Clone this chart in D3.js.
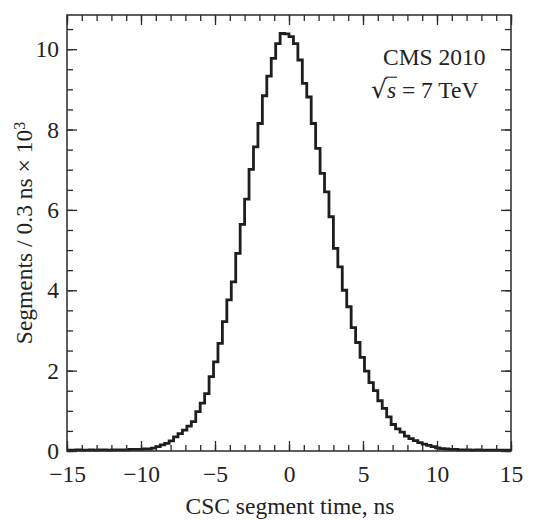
<!DOCTYPE html>
<html>
<head>
<meta charset="utf-8">
<script src="https://cdn.jsdelivr.net/npm/d3@7"></script>
<style>
  html, body { margin: 0; padding: 0; background: #fff; }
  svg text { font-family: "Liberation Serif", "Times New Roman", serif; fill: #222; }
</style>
</head>
<body>
<svg id="chart" width="533" height="520"></svg>
<script>
// Histogram: CSC segment time, bins of 0.3 ns from -15 to 15 (values in units of 10^3 segments)
const binStart = -15;
const binWidth = 0.3;
const counts = [
  0.02, 0.02, 0.03, 0.02, 0.02, 0.03, 0.02, 0.03, 0.03, 0.02,
  0.03, 0.03, 0.03, 0.03, 0.04, 0.04, 0.04, 0.05, 0.05, 0.07,
  0.11, 0.15, 0.19, 0.25, 0.35, 0.43, 0.52, 0.62, 0.73, 0.98,
  1.19, 1.43, 1.85, 2.22, 2.68, 3.22, 3.76, 4.21, 4.92, 5.64,
  6.27, 7.01, 7.57, 8.15, 8.84, 9.33, 9.77, 10.14, 10.39, 10.38,
  10.31, 10.14, 9.73, 9.15, 8.81, 8.15, 7.53, 6.91, 6.45, 5.83,
  5.04, 4.58, 4.00, 3.59, 3.07, 2.70, 2.33, 1.99, 1.70, 1.50,
  1.25, 1.06, 0.85, 0.66, 0.55, 0.47, 0.37, 0.31, 0.26, 0.21,
  0.17, 0.14, 0.11, 0.08, 0.06, 0.05, 0.04, 0.04, 0.03, 0.03,
  0.03, 0.02, 0.03, 0.02, 0.02, 0.02, 0.02, 0.02, 0.02, 0.02
];
const xMajorTicks = [-15, -10, -5, 0, 5, 10, 15];
const xMinorTicks = d3.range(-15, 15.001, 1);
const yMajorTicks = [0, 2, 4, 6, 8, 10];
const yMinorTicks = d3.range(0, 10.6, 0.5);
const xLabel = "CSC segment time, ns";
const yLabelMain = "Segments / 0.3 ns \u00d7 10";
const yLabelSup = "3";
const annotLine1 = "CMS 2010";

const svg = d3.select("#chart");
const L = 67, R = 511, T = 15, B = 451;
const x = d3.scaleLinear().domain([-15, 15]).range([L, R]);
const y = d3.scaleLinear().domain([0, 10.85]).range([B, T]);

const ink = "#2a2a2a";
const fs = 23.5;

// Histogram step line
const pts = counts.map((v, i) => [binStart + i * binWidth, v]);
pts.push([binStart + counts.length * binWidth, counts[counts.length - 1]]);
const line = d3.line().x(d => x(d[0])).y(d => y(d[1])).curve(d3.curveStepAfter);
svg.append("path").datum(pts)
  .attr("d", line)
  .attr("fill", "none")
  .attr("stroke", "#1e1e1e")
  .attr("stroke-width", 2.8)
  .attr("stroke-linejoin", "miter");

function styleAxis(g) {
  g.select(".domain").remove();
  g.selectAll("line").attr("stroke", ink).attr("stroke-width", 1.3);
  g.selectAll("text").attr("font-size", fs).attr("font-family", '"Liberation Serif", serif').attr("fill", "#222");
}

// bottom axis
svg.append("g").attr("transform", `translate(0,${B})`)
  .call(d3.axisBottom(x).tickValues(xMinorTicks).tickSize(-6).tickFormat(""))
  .call(styleAxis);
svg.append("g").attr("transform", `translate(0,${B})`)
  .call(d3.axisBottom(x).tickValues(xMajorTicks).tickSize(-10).tickPadding(14))
  .call(styleAxis);
// top axis
svg.append("g").attr("transform", `translate(0,${T})`)
  .call(d3.axisTop(x).tickValues(xMinorTicks).tickSize(-6).tickFormat(""))
  .call(styleAxis);
svg.append("g").attr("transform", `translate(0,${T})`)
  .call(d3.axisTop(x).tickValues(xMajorTicks).tickSize(-10).tickFormat(""))
  .call(styleAxis);
// left axis
svg.append("g").attr("transform", `translate(${L},0)`)
  .call(d3.axisLeft(y).tickValues(yMinorTicks).tickSize(-6).tickFormat(""))
  .call(styleAxis);
svg.append("g").attr("transform", `translate(${L},0)`)
  .call(d3.axisLeft(y).tickValues(yMajorTicks).tickSize(-10).tickPadding(8).tickFormat(d3.format("d")))
  .call(styleAxis);
// right axis
svg.append("g").attr("transform", `translate(${R},0)`)
  .call(d3.axisRight(y).tickValues(yMinorTicks).tickSize(-6).tickFormat(""))
  .call(styleAxis);
svg.append("g").attr("transform", `translate(${R},0)`)
  .call(d3.axisRight(y).tickValues(yMajorTicks).tickSize(-10).tickFormat(""))
  .call(styleAxis);

// frame
svg.append("rect").attr("x", L).attr("y", T).attr("width", R - L).attr("height", B - T)
  .attr("fill", "none").attr("stroke", ink).attr("stroke-width", 1.5);

// axis titles
svg.append("text").attr("x", (L + R) / 2 + 1).attr("y", 514)
  .attr("text-anchor", "middle").attr("font-size", fs).text(xLabel);

const yl = svg.append("text")
  .attr("transform", `translate(32,${(T + B) / 2}) rotate(-90)`)
  .attr("text-anchor", "middle").attr("font-size", fs);
yl.append("tspan").text(yLabelMain);
yl.append("tspan").attr("dy", "-0.42em").attr("font-size", 16).text(yLabelSup);

// annotation
svg.append("text").attr("x", 383).attr("y", 65).attr("font-size", fs).text(annotLine1);
const a2 = svg.append("text").attr("x", 371).attr("y", 98).attr("font-size", fs);
a2.append("tspan").attr("font-family", '"DejaVu Serif", serif').attr("font-size", 25).text("\u221a");
a2.append("tspan").attr("font-style", "italic").text("s");
a2.append("tspan").text(" = 7 TeV");
// overline of the radical over "s"
const node = a2.node();
const ext0 = node.getExtentOfChar(0);
const ext1 = node.getExtentOfChar(1);
svg.append("line")
  .attr("x1", ext0.x + ext0.width - 1.5).attr("x2", ext1.x + ext1.width + 1)
  .attr("y1", ext0.y + 2.2).attr("y2", ext0.y + 2.2)
  .attr("stroke", "#222").attr("stroke-width", 1.1);
</script>
</body>
</html>
